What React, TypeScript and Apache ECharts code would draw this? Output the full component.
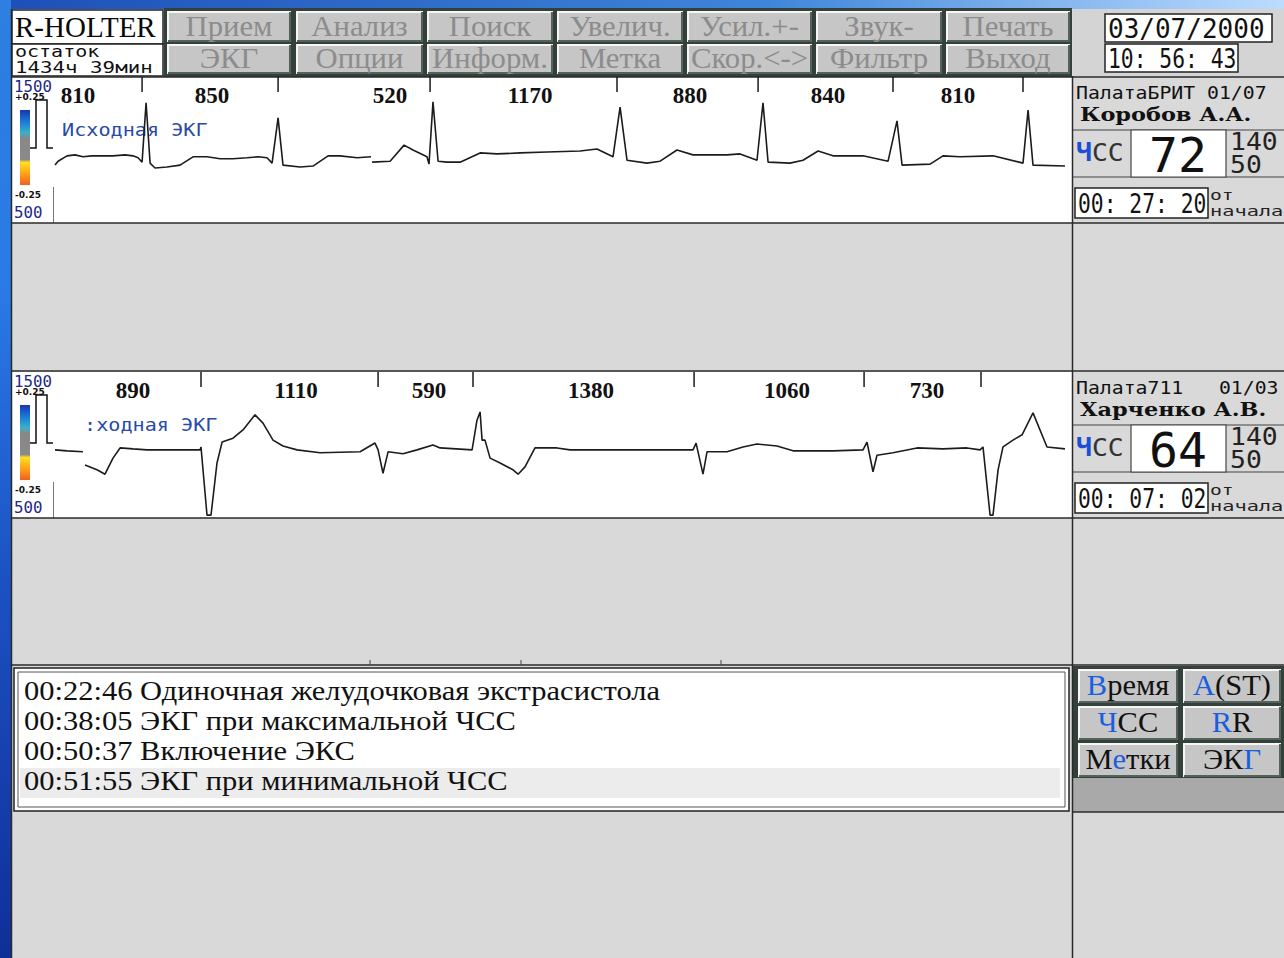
import React, { useEffect, useRef } from 'react';
import * as echarts from 'echarts';

// ---------- DATA ----------
// Channel 1 ECG trace: time (ms) and amplitude (mV); null = break in the trace
const ecg1Time = [0,20,78,130,182,240,293,377,455,507,540,566,592,618,650,728,813,897,988,1073,1157,1248,1320,1378,1411,1450,1482,1593,1677,1775,1853,1963,2054,2058,2061,2178,2269,2327,2418,2431,2457,2490,2548,2633,2763,2873,3023,3198,3413,3523,3627,3673,3718,3848,3933,4043,4147,4368,4453,4563,4602,4635,4778,4862,4960,5057,5252,5415,5473,5506,5688,5772,5883,6097,6292,6325,6357,6565];
const ecg1Volt = [-0.31,-0.23,-0.12,-0.10,-0.14,-0.12,-0.12,-0.12,-0.10,-0.12,-0.16,-0.25,0.97,-0.27,-0.37,-0.35,-0.31,-0.14,-0.14,-0.18,-0.18,-0.16,-0.14,-0.16,-0.27,0.66,-0.31,-0.35,-0.33,-0.12,-0.12,-0.16,-0.14,null,-0.25,-0.23,0.10,0.0,-0.14,-0.29,0.99,-0.23,-0.25,-0.25,-0.06,-0.08,-0.06,-0.04,-0.02,0.02,-0.14,0.88,-0.21,-0.27,-0.23,0.0,-0.10,-0.10,-0.08,-0.21,0.97,-0.25,-0.27,-0.21,-0.02,-0.12,-0.12,-0.23,0.60,-0.31,-0.29,-0.12,-0.14,-0.12,-0.27,0.82,-0.31,-0.33];

// Channel 2 ECG trace
const ecg2Time = [0,78,182,188,195,273,325,377,423,507,598,943,949,988,1014,1053,1086,1157,1222,1300,1352,1417,1482,1573,1723,1983,2080,2100,2132,2165,2262,2353,2457,2503,2711,2743,2763,2776,2795,2828,2893,2977,3010,3055,3120,3263,3348,4147,4167,4212,4238,4368,4472,4563,4693,4797,5057,5252,5278,5317,5343,5447,5603,5772,5928,6013,6032,6078,6097,6130,6162,6227,6286,6357,6448,6565];
const ecg2Volt = [-0.10,-0.12,-0.14,null,-0.41,-0.51,-0.60,-0.27,-0.06,-0.08,-0.10,-0.10,-0.04,-1.44,-1.44,-0.37,0.06,0.14,0.31,0.62,0.45,0.10,-0.02,-0.10,-0.16,-0.14,0.04,-0.10,-0.58,-0.14,-0.18,-0.10,0.0,-0.06,-0.10,0.51,0.68,0.10,0.10,-0.27,-0.37,-0.51,-0.60,-0.45,-0.06,-0.06,-0.10,-0.10,0.04,-0.60,-0.14,-0.14,-0.04,0.02,-0.02,-0.12,-0.12,-0.10,0.06,-0.55,-0.21,-0.16,-0.06,-0.08,-0.06,-0.10,-0.04,-1.44,-1.44,-0.51,-0.04,0.10,0.21,0.66,-0.04,-0.08];

// R-peak marks (ms), RR interval labels (position ms, value ms)
const rr1Ticks = [566,1450,2438,3653,4570,5447,6292];
const rr1LabelTimes = [150,1021,2178,3088,4128,5025,5870];
const rr1Values = [810,850,520,1170,880,840,810];
const rr2Ticks = [949,2100,2717,4154,5259,6019];
const rr2LabelTimes = [507,1567,2431,3484,4758,5668];
const rr2Values = [890,1110,590,1380,1060,730];

// Menus and panels text
const menuRow1 = ['Прием','Анализ','Поиск','Увелич.','Усил.+-','Звук-','Печать'];
const menuRow2 = ['ЭКГ','Опции','Информ.','Метка','Скор.<->','Фильтр','Выход'];
const wards = ['ПалатаБРИТ 01/07','Палата711   01/03'];
const patients = ['Коробов А.А.','Харченко А.В.'];
const heartRates = [72, 64];
const hrMax = [140, 140];
const hrMin = [50, 50];
const elapsed = ['00: 27: 20','00: 07: 02'];
const traceLabels = ['Исходная ЭКГ', ':ходная ЭКГ'];
const eventTimes = ['00:22:46','00:38:05','00:50:37','00:51:55'];
const eventTexts = ['Одиночная желудочковая экстрасистола','ЭКГ при максимальной ЧСС','Включение ЭКС','ЭКГ при минимальной ЧСС'];
const sideButtons = ['{b|В}{n|ремя}','{b|A}{n|(ST)}','{b|Ч}{n|СС}','{b|R}{n|R}','{n|М}{b|е}{n|тки}','{n|ЭК}{b|Г}'];

export default function App() {
  const ref = useRef<HTMLDivElement>(null);
  useEffect(() => {
    if (!ref.current) return;
    const chart = echarts.init(ref.current, null, { renderer: 'svg' });
    const g: any[] = [];
    const rect = (x: number, y: number, w: number, h: number, fill: any, stroke?: string, lw = 1, z = 0) =>
      g.push({ type: 'rect', z, silent: true, shape: { x, y, width: w, height: h }, style: { fill, stroke: stroke || null, lineWidth: lw } });
    const line = (x1: number, y1: number, x2: number, y2: number, stroke = '#2a2a2a', lw = 1.5, z = 1) =>
      g.push({ type: 'line', z, silent: true, shape: { x1, y1, x2, y2 }, style: { stroke, lineWidth: lw } });
    const poly = (pts: number[][], stroke: string, lw = 1.5, z = 1) =>
      g.push({ type: 'polyline', z, silent: true, shape: { points: pts }, style: { stroke, lineWidth: lw, fill: null } });
    const text = (x: number, y: number, t: string, font: string, fill: string, o: any = {}) =>
      g.push({
        type: 'text', x, y, z: o.z ?? 3, silent: true, scaleX: o.sx ?? 1, scaleY: o.sy ?? 1,
        style: {
          text: t, font, fill, align: o.align || 'left', textAlign: o.align || 'left',
          verticalAlign: 'middle', textVerticalAlign: 'middle', rich: o.rich,
        },
      });
    const button = (x: number, y: number, w: number, h: number, label: string, font: string, fill: string, rich?: any, sx = 1) => {
      rect(x, y, w, h, '#c6c6c6', undefined, 1, 1);
      poly([[x + 1, y + h], [x + 1, y + 1], [x + w, y + 1]], '#f6f6f6', 2, 2);
      poly([[x + w - 1, y + 1], [x + w - 1, y + h - 1], [x + 1, y + h - 1]], '#55625b', 2, 2);
      text(x + w / 2, y + h / 2 - 1, label, font, fill, { align: 'center', rich, sx });
    };
    const mono = (s: number) => `${s}px "DejaVu Sans Mono"`;
    const serif = (s: number, b = false) => `${b ? 'bold ' : ''}${s}px "Liberation Serif"`;

    // Frame
    rect(0, 0, 1284, 9, new echarts.graphic.LinearGradient(0, 0, 1, 0, [
      { offset: 0, color: '#1d4fb8' }, { offset: 0.6, color: '#3f86da' }, { offset: 1, color: '#bcdcff' }]));
    rect(0, 0, 11, 958, new echarts.graphic.LinearGradient(0, 0, 0, 1, [
      { offset: 0, color: '#2d7fe0' }, { offset: 0.3, color: '#2a7ae6' }, { offset: 0.6, color: '#1c52c4' }, { offset: 1, color: '#0f2f98' }]));
    line(11.5, 9, 11.5, 958, '#2a2a2a', 1.5);

    // Top toolbar
    rect(12, 10, 151, 34, '#ffffff', '#222', 1.5, 1);
    rect(12, 44, 151, 32, '#ffffff', '#222', 1.5, 1);
    text(15, 27, 'R-HOLTER', serif(29), '#0a0a0a');
    text(15, 51, 'остаток', mono(16), '#111', { sx: 1.25 });
    text(15, 67, '1434ч 39мин', mono(16), '#111', { sx: 1.3 });
    rect(164, 8, 908, 69, '#34403a');
    const colX = [167, 296, 427, 557, 687, 816, 946];
    const colW = [124, 127, 126, 126, 125, 126, 124];
    menuRow1.forEach((m, i) => button(colX[i], 11, colW[i], 31, m, serif(29), '#8c8c8c', undefined, 1.06));
    menuRow2.forEach((m, i) => button(colX[i], 44, colW[i], 30, m, serif(29), '#8c8c8c', undefined, 1.06));
    rect(1073, 9, 211, 67, '#d4d4d4');
    rect(1105, 14, 167, 28, '#ffffff', '#222', 1.5, 1);
    rect(1105, 44, 133, 28, '#ffffff', '#222', 1.5, 1);
    text(1108, 29, '03/07/2000', mono(26), '#111');
    text(1108, 59, '10: 56: 43', mono(26), '#111', { sx: 0.82 });

    // Channel panels
    [77, 372].forEach((y0, k) => {
      rect(12, y0, 1060, 146, '#ffffff', undefined, 1, 0);
      text(14, y0 + 10, '1500', mono(15), '#22288a', { sx: 1.05 });
      text(15, y0 + 20, '+0.25', 'bold 9px "DejaVu Sans"', '#111', { z: 4 });
      rect(20, y0 + 33, 10, 75, new echarts.graphic.LinearGradient(0, 0, 0, 1, [
        { offset: 0, color: '#1736b0' }, { offset: 0.15, color: '#1a78d8' }, { offset: 0.3, color: '#3ab0c8' },
        { offset: 0.38, color: '#888888' }, { offset: 0.66, color: '#8a8a8a' }, { offset: 0.7, color: '#ffe020' },
        { offset: 0.85, color: '#ffa018' }, { offset: 1, color: '#f0601e' }]), undefined, 1, 1);
      poly([[30, y0 + 71], [36, y0 + 71], [36, y0 + 23], [47, y0 + 23], [47, y0 + 71], [53, y0 + 71]], '#111', 1.5);
      text(15, y0 + 118, '-0.25', 'bold 9px "DejaVu Sans"', '#111');
      text(14, y0 + 136, '500', mono(15), '#22288a', { sx: 1.05 });
      line(53.5, y0 + 110, 53.5, y0 + 146, '#777', 1);
      text(k === 0 ? 62 : 84, y0 + 53, traceLabels[k], mono(18), '#2a4aa8', { sx: 1.12, z: 1 });

      // right info block
      text(1076, y0 + 15, wards[k], mono(18), '#111', { sx: 1.1 });
      text(1080, y0 + 37, patients[k], 'bold 19px "DejaVu Serif"', '#111', { sx: 1.18 });
      line(1072, y0 + 53, 1284, y0 + 53, '#444', 1.2);
      line(1072, y0 + 100, 1284, y0 + 100, '#444', 1.2);
      rect(1131, y0 + 53, 95, 47, '#ffffff', '#444', 1.2, 1);
      text(1076, y0 + 76, '{b|Ч}{n|СС}', mono(24), '#333', {
        sx: 1.1,
        rich: { b: { font: 'bold 24px "DejaVu Sans Mono"', fill: '#1a4ed8', color: '#1a4ed8' }, n: { font: mono(24), fill: '#333', color: '#333' } },
      });
      text(1178, y0 + 78, String(heartRates[k]), mono(48), '#111', { align: 'center' });
      text(1230, y0 + 65, String(hrMax[k]), mono(24), '#222', { sx: 1.1 });
      text(1230, y0 + 88, String(hrMin[k]), mono(24), '#222', { sx: 1.1 });
      rect(1075, y0 + 111, 133, 30, '#ffffff', '#222', 1.5, 1);
      text(1078, y0 + 127, elapsed[k], mono(26), '#111', { sx: 0.82 });
      text(1210, y0 + 118, 'от', mono(14), '#222', { sx: 1.4 });
      text(1210, y0 + 134, 'начала', mono(14), '#222', { sx: 1.45 });
    });

    // horizontal separators & vertical divider
    [77, 223, 371, 518, 665].forEach((y) => line(11, y, 1284, y, '#2a2a2a', 1.5));
    line(1072.5, 76, 1072.5, 958, '#2a2a2a', 1.5);
    [370, 521, 721].forEach((x) => line(x, 660, x, 665, '#444', 1));

    // Event list
    rect(14, 668, 1055, 143, '#ffffff', '#222', 1.5, 1);
    g.push({ type: 'rect', z: 1, silent: true, shape: { x: 18, y: 672, width: 1047, height: 135 }, style: { fill: null, stroke: '#555', lineWidth: 1 } });
    rect(20, 768, 1040, 30, '#ececec', undefined, 1, 1);
    eventTimes.forEach((t, i) => text(24, 691 + i * 30, `${t} ${eventTexts[i]}`, serif(27), '#111', { sx: 1.13 }));

    // Side buttons
    rect(1073, 666, 211, 112, '#34403a');
    rect(1073, 778, 211, 34, '#a9a9a9');
    line(1072, 812, 1284, 812, '#2a2a2a', 1.5);
    const sbX = [1078, 1183];
    const sbY = [669, 706, 743];
    sideButtons.forEach((lbl, i) => {
      const x = sbX[i % 2];
      const y = sbY[Math.floor(i / 2)];
      button(x, y, i % 2 === 0 ? 100 : 98, 34, lbl, serif(29), '#111', {
        b: { font: serif(29), fill: '#1a5ee0', color: '#1a5ee0' },
        n: { font: serif(29), fill: '#111', color: '#111' },
      }, 1.05);
    });

    const toPairs = (ts: number[], vs: (number | null)[]) => ts.map((t, i) => [t, vs[i] === null ? '-' : vs[i]]);
    const tickSeries = (ticks: number[], idx: number) => ({
      type: 'custom', xAxisIndex: idx, yAxisIndex: idx, silent: true, z: 4, clip: false,
      data: ticks.map((t) => [t, 1.5]), encode: { x: 0, y: 1 },
      renderItem: (_p: any, api: any) => {
        const p = api.coord([api.value(0), api.value(1)]);
        return { type: 'line', shape: { x1: p[0], y1: p[1], x2: p[0], y2: p[1] + 15 }, style: { stroke: '#1a1a1a', lineWidth: 1.5 } };
      },
    });
    const labelSeries = (times: number[], vals: number[], idx: number) => ({
      type: 'custom', xAxisIndex: idx, yAxisIndex: idx, silent: true, z: 4, clip: false,
      data: times.map((t, i) => [t, 1.5, vals[i]]), encode: { x: 0, y: 1 },
      renderItem: (_p: any, api: any) => {
        const p = api.coord([api.value(0), api.value(1)]);
        return {
          type: 'text', x: p[0], y: p[1] + 18,
          style: { text: String(api.value(2)), font: serif(23, true), fill: '#111', align: 'center', textAlign: 'center', verticalAlign: 'middle', textVerticalAlign: 'middle' },
        };
      },
    });
    const lineSeries = (data: any[], idx: number) => ({
      type: 'line', xAxisIndex: idx, yAxisIndex: idx, data, symbol: 'none', connectNulls: false, silent: true, z: 2,
      lineStyle: { color: '#1c1c1c', width: 1.6 },
    });

    chart.setOption({
      animation: false,
      backgroundColor: '#d9d9d9',
      grid: [
        { left: 55, top: 77, width: 1010, height: 146, show: false },
        { left: 55, top: 372, width: 1010, height: 146, show: false },
      ],
      xAxis: [0, 1].map((i) => ({ type: 'value', gridIndex: i, min: 0, max: 6565, show: false })),
      yAxis: [0, 1].map((i) => ({ type: 'value', gridIndex: i, min: -1.5, max: 1.5, show: false })),
      series: [
        lineSeries(toPairs(ecg1Time, ecg1Volt), 0),
        lineSeries(toPairs(ecg2Time, ecg2Volt), 1),
        tickSeries(rr1Ticks, 0),
        tickSeries(rr2Ticks, 1),
        labelSeries(rr1LabelTimes, rr1Values, 0),
        labelSeries(rr2LabelTimes, rr2Values, 1),
      ],
      graphic: { elements: g },
    });
    return () => chart.dispose();
  }, []);
  return <div ref={ref} style={{ position: 'fixed', left: 0, top: 0, width: 1284, height: 958 }} />;
}
